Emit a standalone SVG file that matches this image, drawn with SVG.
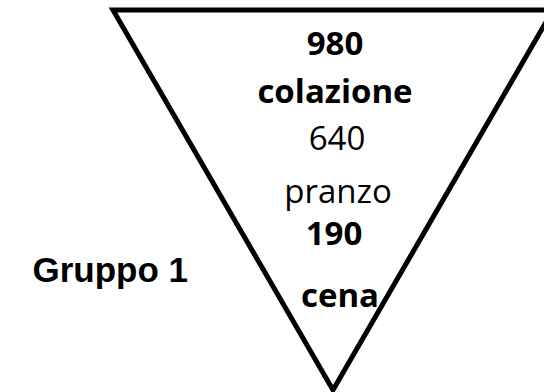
<svg xmlns="http://www.w3.org/2000/svg" width="544" height="392" viewBox="0 0 544 392">
<style>
.t{font-family:"Open Sans","Noto Sans",sans-serif;font-size:33px;fill:#000;text-anchor:middle}
.b{font-weight:bold}
.g{font-family:"Liberation Sans",Arial,sans-serif;font-size:35px;font-weight:bold;fill:#000;text-anchor:end}
</style>
<rect width="544" height="392" fill="#fff"/>
<g id="triangle">
<polygon points="113,10 553,10 333,390" fill="none" stroke="#000" stroke-width="5" stroke-linejoin="miter"/>
</g>
<g id="labels">
<text class="t b" x="335" y="55">980</text>
<text class="t b" x="335" y="103">colazione</text>
<text class="t" x="337" y="150">640</text>
<text class="t" x="338" y="203">pranzo</text>
<text class="t b" x="334" y="245">190</text>
<text class="t b" x="340" y="307">cena</text>
</g>
<g id="group-label">
<text class="g" x="188" y="282">Gruppo 1</text>
</g>
</svg>
